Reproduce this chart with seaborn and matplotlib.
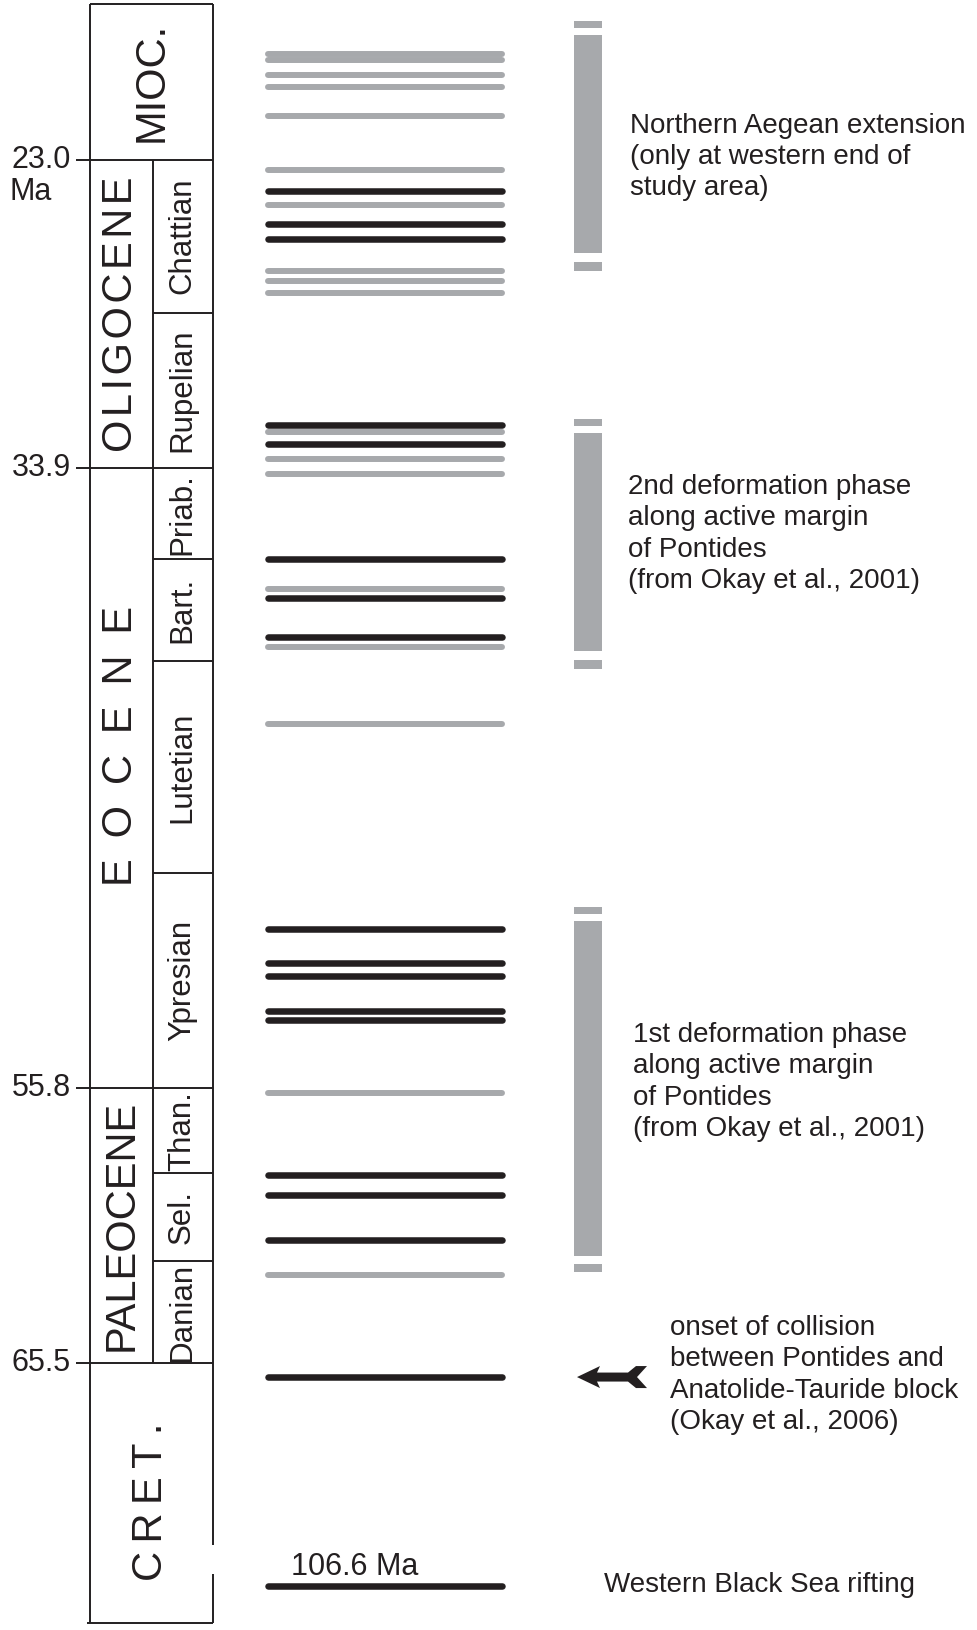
import numpy as np
import pandas as pd
import matplotlib
matplotlib.use("Agg")
import matplotlib.pyplot as plt
import matplotlib.transforms as mtransforms
from matplotlib.patches import Polygon
import seaborn as sns

# ---------------- data (ages in Ma) ----------------
boundary_ages = [23.0, 33.9, 55.8, 65.5]
boundary_labels = ["23.0", "33.9", "55.8", "65.5"]

epoch_names = ["MIOC.", "O\u200aL\u200aI\u200aG\u200aO\u200aC\u200aE\u200aN\u200aE",
               "E\u2002O\u2002C\u2002E\u2002N\u2002E", "PALEOCENE", "C\u2009R\u2009E\u2009T\u2009."]
epoch_top = [17.5, 23.0, 33.9, 55.8, 65.5]
epoch_base = [23.0, 33.9, 55.8, 65.5, 107.9]
epoch_has_stages = [False, True, True, True, False]

stage_names = ["Chattian", "Rupelian", "Priab.", "Bart.", "Lutetian", "Ypresian", "Than.", "Sel.", "Danian"]
stage_top = [23.0, 28.4, 33.9, 37.1, 40.7, 48.2, 55.8, 58.8, 61.9]
stage_base = [28.4, 33.9, 37.1, 40.7, 48.2, 55.8, 58.8, 61.9, 65.5]

grey_event_ages = [19.27, 19.48, 20.01, 20.43, 21.44, 23.36, 24.61, 26.92, 27.29, 27.70,
                   32.61, 33.58, 34.10, 38.17, 40.20, 42.93, 55.97, 62.39]
black_event_ages = [24.09, 25.27, 25.81, 32.37, 33.05, 37.11, 38.49, 39.87,
                    50.17, 51.37, 51.83, 53.07, 53.39, 58.86, 59.57, 61.16, 66.0, 106.6]

phase_labels = ["Northern Aegean extension\n(only at western end of\nstudy area)",
                "2nd deformation phase\nalong active margin\nof Pontides\n(from Okay et al., 2001)",
                "1st deformation phase\nalong active margin\nof Pontides\n(from Okay et al., 2001)"]
phase_outer_top = [18.10, 32.16, 49.40]
phase_inner_top = [18.59, 32.65, 49.89]
phase_inner_base = [26.29, 40.35, 61.73]
phase_outer_base = [26.93, 40.99, 62.29]

collision_age = 66.0
collision_label = "onset of collision\nbetween Pontides and\nAnatolide-Tauride block\n(Okay et al., 2006)"
rifting_age = 106.6
rifting_label = "Western Black Sea rifting"
rifting_age_label = "106.6 Ma"

# ---------------- style ----------------
sns.set_theme(style="white")
plt.rcParams["font.family"] = ["Liberation Sans", "DejaVu Sans"]
BLACK = "#231f20"
GREY = "#a7a9ac"
LW_BOX = 1.4

# ---------------- axis with a break in the Cretaceous ----------------
K = 28.31          # px per Myr
Y0 = -491.4        # pixel offset
B1, B2 = 71.93, 106.18
C = (29.0 / K) / (B2 - B1)
U2 = B1 + (B2 - B1) * C


def fwd(a):
    a = np.asarray(a, float)
    return np.where(a <= B1, a, np.where(a <= B2, B1 + (a - B1) * C, U2 + (a - B2)))


def inv(u):
    u = np.asarray(u, float)
    return np.where(u <= B1, u, np.where(u <= U2, B1 + (u - B1) / C, B2 + (u - U2)))


def age_at(px):
    return float(inv((px - Y0) / K))


fig = plt.figure(figsize=(9.78, 16.30), dpi=100)
ax = fig.add_axes([0, 0, 1, 1])
ax.set_yscale("function", functions=(fwd, inv))
ax.set_xlim(0, 978)
ax.set_ylim(age_at(1630), age_at(0))
ax.axis("off")

# ---------------- time-scale column ----------------
XL, XM, XR = 90, 153, 213
col_top, col_base = epoch_top[0], epoch_base[-1]
ax.vlines(XL, col_top, col_base, color=BLACK, lw=LW_BOX)
ax.vlines(XR, col_top, B1, color=BLACK, lw=LW_BOX)
ax.vlines(XR, B2, col_base, color=BLACK, lw=LW_BOX)
ax.hlines(col_top, XL, XR, color=BLACK, lw=LW_BOX)
ax.hlines(col_base, 87, XR, color=BLACK, lw=LW_BOX)
ax.hlines(boundary_ages, 76, XR, color=BLACK, lw=LW_BOX)
ax.vlines(XM, boundary_ages[0], boundary_ages[-1], color=BLACK, lw=LW_BOX)
inner = [t for t in stage_top if t not in boundary_ages]
ax.hlines(inner, XM, XR, color=BLACK, lw=LW_BOX)

for lab, a in zip(boundary_labels, boundary_ages):
    ax.text(71, a, lab, ha="right", va="center", fontsize=22, color=BLACK)
ax.text(9, age_at(192), "Ma", ha="left", va="center", fontsize=22, color=BLACK)

epoch_shift_px = [0, 0, -32, 0, 7]
for name, t, b, st, sh in zip(epoch_names, epoch_top, epoch_base, epoch_has_stages, epoch_shift_px):
    xc = (XL + XM) / 2 if st else (XL + XR) / 2
    yc_px = (fwd(t) + fwd(b)) / 2 * K + Y0 + sh
    if b > B2:
        yc_px = 1502
    ax.text(xc, age_at(yc_px), name, rotation=90, ha="center", va="center",
            fontsize=30, color=BLACK, rotation_mode="anchor")

for name, t, b in zip(stage_names, stage_top, stage_base):
    ax.text((XM + XR) / 2 - 1, (t + b) / 2, name, rotation=90, ha="center", va="center",
            fontsize=22.5, color=BLACK, rotation_mode="anchor")

# ---------------- event lines (seaborn) ----------------
X0, X1 = 267.5, 501.5
rows = []
for i, a in enumerate(grey_event_ages):
    rows += [dict(x=X0, age=a, ev=f"g{i}", kind="grey"), dict(x=X1, age=a, ev=f"g{i}", kind="grey")]
for i, a in enumerate(black_event_ages):
    rows += [dict(x=X0, age=a, ev=f"b{i}", kind="black"), dict(x=X1, age=a, ev=f"b{i}", kind="black")]
events = pd.DataFrame(rows)
sns.lineplot(data=events, x="x", y="age", hue="kind", units="ev", estimator=None,
             hue_order=["grey", "black"], palette={"grey": GREY, "black": BLACK},
             size="kind", sizes={"grey": 4.3, "black": 4.7}, legend=False,
             solid_capstyle="round", ax=ax)

ax.text(291, age_at(1567), rifting_age_label, ha="left", va="center", fontsize=22, color=BLACK)

# ---------------- phase bars ----------------
BX, BW = 588, 28
ax.bar([BX] * 3, np.subtract(phase_inner_base, phase_inner_top), bottom=phase_inner_top,
       width=BW, color=GREY, linewidth=0)
dt_top = [(o + i) / 2 for o, i in zip(phase_outer_top, phase_inner_top)]
ax.bar([BX] * 3, np.subtract(dt_top, phase_outer_top), bottom=phase_outer_top,
       width=BW, color=GREY, linewidth=0)
db_top = [(o + i) / 2 for o, i in zip(phase_outer_base, phase_inner_base)]
ax.bar([BX] * 3, np.subtract(phase_outer_base, db_top), bottom=db_top,
       width=BW, color=GREY, linewidth=0)

label_x = [630, 628, 633]
label_y_px = [157, 534, 1082]
for lab, lx, ly in zip(phase_labels, label_x, label_y_px):
    ax.text(lx, age_at(ly), lab, ha="left", va="center", fontsize=20, color=BLACK,
            linespacing=1.27)

ax.text(670, age_at(1375), collision_label, ha="left", va="center", fontsize=20,
        color=BLACK, linespacing=1.27)
ax.text(604, age_at(1585), rifting_label, ha="left", va="center", fontsize=20, color=BLACK)

# ---------------- arrow for onset of collision ----------------
fig.canvas.draw()
ax_x, ax_y = ax.transData.transform((577, collision_age))
pts = [(0, 0), (23, 11), (20, 4.5), (51, 4.5), (59, 11), (70, 11), (60, 0),
       (70, -11), (59, -11), (51, -4.5), (20, -4.5), (23, -11)]
arrow = Polygon(pts, closed=True, facecolor=BLACK, edgecolor="none",
                transform=mtransforms.Affine2D().translate(ax_x, ax_y))
fig.add_artist(arrow)

fig.savefig("out.png", dpi=100, facecolor="white")
